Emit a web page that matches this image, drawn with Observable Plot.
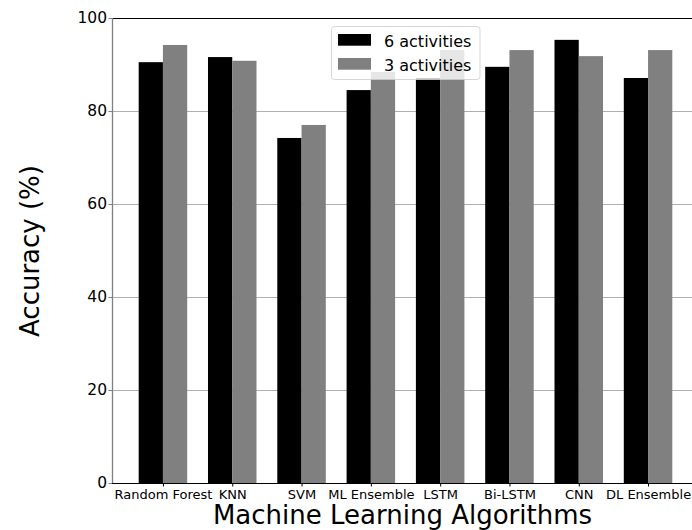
<!DOCTYPE html>
<html>
<head>
<meta charset="utf-8">
<script src="https://cdn.jsdelivr.net/npm/d3@7"></script>
<script src="https://cdn.jsdelivr.net/npm/@observablehq/plot@0.6"></script>
<style>
  html, body { margin: 0; padding: 0; background: #fff; }
  #chart { width: 692px; height: 530px; overflow: hidden; }
</style>
</head>
<body>
<div id="chart"></div>
<script>
// Classification accuracy of each algorithm, for the 6-activity and 3-activity setups
const algorithms = ["Random Forest", "KNN", "SVM", "ML Ensemble", "LSTM", "Bi-LSTM", "CNN", "DL Ensemble"];
const sixActivities = [90.5, 91.6, 74.2, 84.5, 87.1, 89.5, 95.3, 87.1];
const threeActivities = [94.2, 90.8, 77.0, 88.4, 93.1, 93.1, 91.8, 93.1];
const seriesNames = ["6 activities", "3 activities"];
const seriesColors = ["#000000", "#808080"];
const yTicks = [0, 20, 40, 60, 80, 100];
const gridTicks = [20, 40, 60, 80];

const barWidth = 0.35;               // each bar's width in category units
const xDomain = [-0.735, 7.735];     // category index range with side margins
const yDomain = [0, 100];

const rows = algorithms.flatMap((name, i) => [
  {i, name, series: seriesNames[0], value: sixActivities[i], x1: i - barWidth, x2: i},
  {i, name, series: seriesNames[1], value: threeActivities[i], x1: i, x2: i + barWidth}
]);

const font = "DejaVu Sans";

const chart = Plot.plot({
  width: 692,
  height: 530,
  marginTop: 18,
  marginBottom: 47,
  marginLeft: 112,
  marginRight: 0,
  style: {fontFamily: font, background: "#fff", color: "#000", overflow: "visible"},
  x: {domain: xDomain, range: [112, 699]},
  y: {domain: yDomain},
  color: {domain: seriesNames, range: seriesColors},
  marks: [
    Plot.ruleY(gridTicks, {stroke: "#b0b0b0", strokeWidth: 1}),
    Plot.rect(rows, {x1: "x1", x2: "x2", y1: 0, y2: "value", fill: "series"}),
    // spines
    Plot.ruleY([yDomain[1]], {stroke: "#000", strokeWidth: 1}),
    Plot.ruleY([yDomain[0]], {stroke: "#000", strokeWidth: 1}),
    Plot.ruleX([xDomain[0]], {stroke: "#7f7f7f", strokeWidth: 1.3}),
    Plot.axisY(yTicks, {
      tickSize: 3.5, tickPadding: 2, stroke: "#7f7f7f",
      fontSize: 15.5, label: null, tickFormat: d => d
    }),
    Plot.axisX(d3.range(algorithms.length), {
      tickSize: 3.5, tickPadding: 3, stroke: "#000",
      fontSize: 13, label: null, tickFormat: i => algorithms[i]
    }),
    Plot.text(["Machine Learning Algorithms"], {
      frameAnchor: "bottom", dy: 32, lineAnchor: "middle", textAnchor: "middle",
      fontSize: 26, fill: "#000"
    }),
    Plot.text(["Accuracy (%)"], {
      frameAnchor: "left", dx: -82, rotate: -90, lineAnchor: "middle", textAnchor: "middle",
      fontSize: 26, fill: "#000"
    })
  ]
});

// Legend box in the upper middle of the plot area
const svg = d3.select(chart);
const legend = svg.append("g")
  .attr("font-family", font)
  .attr("text-anchor", "start");
legend.append("rect")
  .attr("x", 331.5).attr("y", 26.5).attr("width", 148.5).attr("height", 53)
  .attr("rx", 3).attr("fill", "#fff").attr("fill-opacity", 0.8)
  .attr("stroke", "#cccccc").attr("stroke-opacity", 0.8);
seriesNames.forEach((name, k) => {
  const y = 34 + k * 24;
  legend.append("rect")
    .attr("x", 338).attr("y", y).attr("width", 33).attr("height", 11.7)
    .attr("fill", seriesColors[k]);
  legend.append("text")
    .attr("x", 384).attr("y", y + 12.5)
    .attr("text-anchor", "start")
    .attr("font-size", 16).attr("fill", "#000")
    .text(name);
});

document.getElementById("chart").appendChild(chart);
</script>
</body>
</html>
